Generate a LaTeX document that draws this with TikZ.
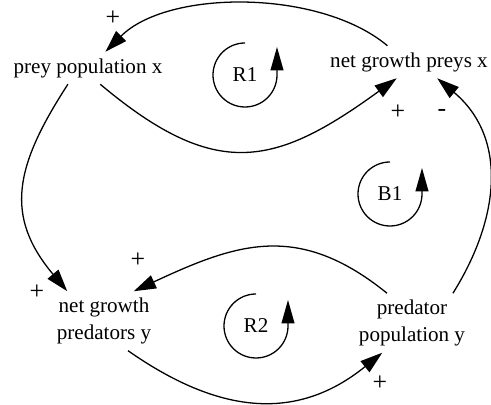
\documentclass[tikz,border=0pt]{standalone}
\usepackage{fontspec}
\setmainfont{Liberation Serif}
\usetikzlibrary{arrows.meta}

\begin{document}
\begin{tikzpicture}[x=0.03cm,y=0.03cm,
  var/.style={inner sep=5.5pt,align=center,font=\fontsize{18}{23}\selectfont},
  link/.style={draw=black,line width=1.1pt,-{Triangle[length=19pt,width=12pt]}},
  sign/.style={inner sep=0pt,font=\fontsize{22}{26}\selectfont},
  loopname/.style={inner sep=0pt,font=\fontsize{18}{23}\selectfont},
  looparrow/.style={draw=black,line width=1.1pt,-{Triangle[length=20pt,width=11pt]}}
]
\useasboundingbox (0,0) rectangle (491,405);
% variables
\node[var] (prey) at (88,337) {prey population x};
\node[var] (preys) at (409,343) {net growth preys x};
\node[var] (predators) at (104,84) {net growth\\predators y};
\node[var] (predator) at (412,82) {predator\\population y};
% causal links
\draw[link] (preys.143) to[out=140,in=45,looseness=0.8] (prey.43);
\draw[link] (prey.-53) to[out=-40,in=216,looseness=1.3] (preys.233);
\draw[link] (prey.219) to[out=237,in=130,looseness=1.21] (predators.141);
\draw[link] (predator.130) to[out=141,in=25,looseness=1.15] (predators.45);
\draw[link] (predators.-51) to[out=-35,in=219,looseness=1.11] (predator.225);
\draw[link] (predator.36) to[out=58,in=320,looseness=1.08] (preys.-30);
% polarities
\node[sign] (s1) at (113,387) {+};
\node[sign] (s2) at (398,293) {+};
\node[sign] (s3) at (37,113) {+};
\node[sign] (s4) at (138,145) {+};
\node[sign] (s5) at (380,22) {+};
\node[sign] (s6) at (442,292) {-};
% loops
\node[loopname] (R1) at (245,330) {R1};
\node[loopname] (B1) at (390,211) {B1};
\node[loopname] (R2) at (256,79) {R2};
\draw[looparrow] ([shift={(90:32)}]R1.center) arc[start angle=90,end angle=360,radius=32] -- ++(0,28);
\draw[looparrow] ([shift={(90:32)}]B1.center) arc[start angle=90,end angle=360,radius=32] -- ++(0,26);
\draw[looparrow] ([shift={(90:32)}]R2.center) arc[start angle=90,end angle=360,radius=32] -- ++(0,26);
\end{tikzpicture}
\end{document}
